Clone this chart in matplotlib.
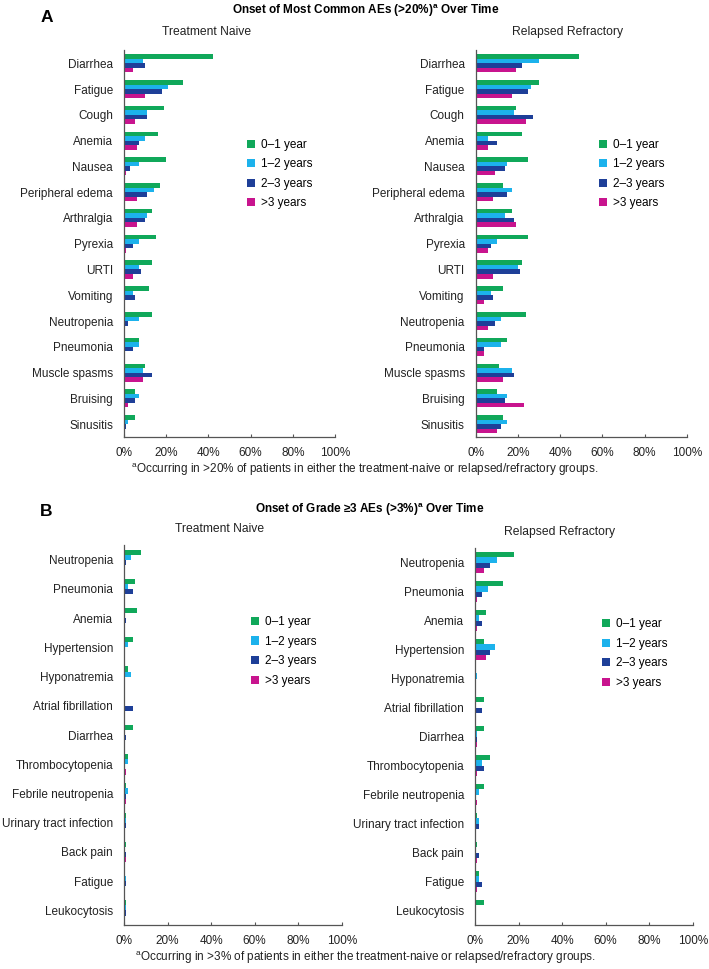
import matplotlib
matplotlib.use("Agg")
import matplotlib.pyplot as plt
import numpy as np

plt.rcParams['font.family'] = ['Liberation Sans', 'DejaVu Sans']

series = ["0\u20131 year", "1\u20132 years", "2\u20133 years", ">3 years"]
colores = ["#10A85A", "#1CB2EC", "#1E3F98", "#C8148E"]

# painel A
aes_a = ["Diarrhea", "Fatigue", "Cough", "Anemia", "Nausea", "Peripheral edema",
         "Arthralgia", "Pyrexia", "URTI", "Vomiting", "Neutropenia", "Pneumonia",
         "Muscle spasms", "Bruising", "Sinusitis"]
tn_a_01 = [42, 28, 19, 16, 20, 17, 13, 15, 13, 12, 13, 7, 10, 5, 5]
tn_a_12 = [9, 21, 11, 10, 7, 14, 11, 7, 7, 4, 7, 7, 9, 7, 2]
tn_a_23 = [10, 18, 11, 7, 3, 11, 10, 4, 8, 5, 2, 4, 13, 5, 1]
tn_a_3p = [4, 10, 5, 6, 1, 6, 6, 1, 4, 0, 0, 0, 9, 2, 0]
rr_a_01 = [49, 30, 19, 22, 25, 13, 17, 25, 22, 13, 24, 15, 11, 10, 13]
rr_a_12 = [30, 26, 18, 6, 15, 17, 14, 10, 20, 7, 12, 12, 17, 15, 15]
rr_a_23 = [22, 25, 27, 10, 14, 15, 18, 7, 21, 8, 9, 4, 18, 14, 12]
rr_a_3p = [19, 17, 24, 6, 9, 8, 19, 6, 8, 4, 6, 4, 13, 23, 10]

# painel B
aes_b = ["Neutropenia", "Pneumonia", "Anemia", "Hypertension", "Hyponatremia",
         "Atrial fibrillation", "Diarrhea", "Thrombocytopenia", "Febrile neutropenia",
         "Urinary tract infection", "Back pain", "Fatigue", "Leukocytosis"]
tn_b_01 = [8, 5, 6, 4, 2, 0.5, 4, 2, 1, 1, 0.8, 0, 1]
tn_b_12 = [3, 2, 0, 2, 3, 0, 0, 2, 2, 1, 0, 0.8, 0.8]
tn_b_23 = [1, 4, 1, 0, 0, 4, 1, 0, 1, 1, 1, 1, 1]
tn_b_3p = [0, 0, 0, 0, 0, 0, 0, 1, 1, 0, 1, 0, 0]
rr_b_01 = [18, 13, 5, 4, 0, 4, 4, 7, 4, 1, 1, 2, 4]
rr_b_12 = [10, 6, 2, 9, 1, 0, 1, 3, 2, 2, 0, 2, 0]
rr_b_23 = [7, 3, 3, 7, 0, 3, 1, 4, 0, 2, 2, 3, 0]
rr_b_3p = [4, 1, 1, 5, 0, 0, 1, 1, 1, 0, 1, 1, 0]

FS = 8.5


def painel(ax, nomes, valores, leg_y):
    n = len(nomes)
    y = np.arange(n)
    h = 0.175
    for k in range(4):
        ax.barh(y - 1.5 * h + k * h, valores[k], height=h, color=colores[k],
                label=series[k])
    ax.set_ylim(n - 0.5, -0.5)
    ax.set_xlim(0, 100)
    ax.set_yticks(y)
    ax.set_yticklabels(nomes, fontsize=FS, color="#222222")
    ax.set_xticks(range(0, 101, 20))
    ax.set_xticklabels([f"{v}%" for v in range(0, 101, 20)], fontsize=FS, color="#222222")
    ax.tick_params(axis="y", length=0, pad=8)
    ax.tick_params(axis="x", direction="in", length=2.5, color="#555555", pad=7)
    for s in ["top", "right"]:
        ax.spines[s].set_visible(False)
    for s in ["left", "bottom"]:
        ax.spines[s].set_color("#555555")
        ax.spines[s].set_linewidth(0.9)
    ax.legend(loc="center left", bbox_to_anchor=(0.56, leg_y), frameon=False,
              fontsize=FS, handlelength=0.7, handleheight=0.7, handletextpad=0.5,
              labelspacing=0.64, borderaxespad=0)


def fy(py):
    return 1 - py / 969


def fx(px):
    return px / 709


fig = plt.figure(figsize=(7.09, 9.69), dpi=100)

ax1 = fig.add_axes([0.175, 0.549, 0.2976, 0.399])
ax2 = fig.add_axes([0.671, 0.549, 0.2976, 0.399])
ax3 = fig.add_axes([0.175, 0.0454, 0.307, 0.392])
ax4 = fig.add_axes([0.670, 0.0454, 0.307, 0.389])

painel(ax1, aes_a, [tn_a_01, tn_a_12, tn_a_23, tn_a_3p], 0.68)
painel(ax2, aes_a, [rr_a_01, rr_a_12, rr_a_23, rr_a_3p], 0.68)
painel(ax3, aes_b, [tn_b_01, tn_b_12, tn_b_23, tn_b_3p], 0.72)
painel(ax4, aes_b, [rr_b_01, rr_b_12, rr_b_23, rr_b_3p], 0.72)

sub = dict(fontsize=8.7, ha="center", va="center", color="#222222")
fig.text(fx(207), fy(32), "Treatment Naive", **sub)
fig.text(fx(568), fy(32), "Relapsed Refractory", **sub)
fig.text(fx(220), fy(529), "Treatment Naive", **sub)
fig.text(fx(560), fy(532), "Relapsed Refractory", **sub)

fig.text(fx(41), fy(17), "A", fontsize=12.5, fontweight="bold", va="center")
fig.text(fx(366), fy(11), "Onset of Most Common AEs (>20%)$^\\mathregular{a}$ Over Time",
         fontsize=8.5, fontweight="bold", ha="center", va="center")
fig.text(fx(365), fy(470),
         "$^\\mathregular{a}$Occurring in >20% of patients in either the treatment-naive or relapsed/refractory groups.",
         fontsize=8.5, ha="center", va="center", color="#222222")

fig.text(fx(40), fy(511), "B", fontsize=12.5, fontweight="bold", va="center")
fig.text(fx(370), fy(510), "Onset of Grade \u22653 AEs (>3%)$^\\mathregular{a}$ Over Time",
         fontsize=8.5, fontweight="bold", ha="center", va="center")
fig.text(fx(365), fy(958),
         "$^\\mathregular{a}$Occurring in >3% of patients in either the treatment-naive or relapsed/refractory groups.",
         fontsize=8.5, ha="center", va="center", color="#222222")

fig.savefig("out.png", dpi=100)
